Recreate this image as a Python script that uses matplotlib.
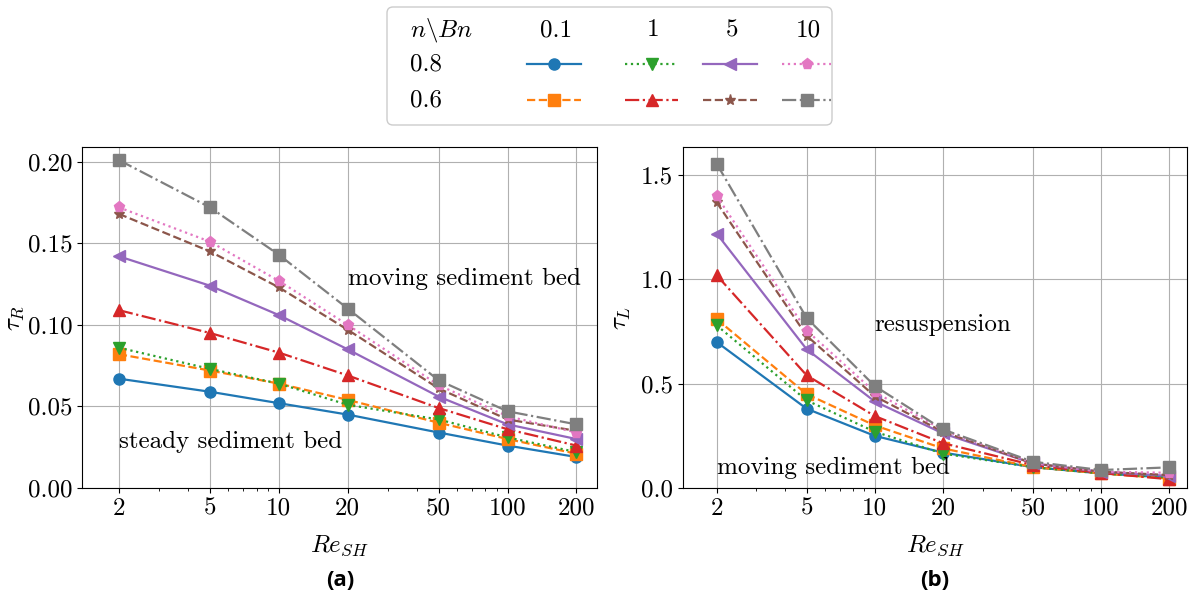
import matplotlib
matplotlib.use("Agg")
import matplotlib.pyplot as plt
from matplotlib.ticker import FixedLocator, FixedFormatter, NullFormatter
from matplotlib.patches import FancyBboxPatch

plt.rcParams['font.family'] = 'serif'
plt.rcParams['font.serif'] = ['cmr10']
plt.rcParams['mathtext.fontset'] = 'cm'
plt.rcParams['axes.formatter.use_mathtext'] = True
plt.rcParams['font.size'] = 18

re_sh = [2, 5, 10, 20, 50, 100, 200]
xtick_labels = ['2', '5', '10', '20', '50', '100', '200']

# series keys: (n, Bn)
series_keys = [(0.8, 0.1), (0.6, 0.1), (0.8, 1), (0.6, 1),
               (0.8, 5), (0.6, 5), (0.8, 10), (0.6, 10)]
colors = ['C0', 'C1', 'C2', 'C3', 'C4', 'C5', 'C6', 'C7']
styles = ['-', '--', ':', '-.', '-', '--', ':', '-.']
markers = ['o', 's', 'v', '^', '<', '*', 'p', 's']

# tau_R (a)
tau_r_08_01 = [0.067, 0.059, 0.052, 0.045, 0.034, 0.026, 0.019]
tau_r_06_01 = [0.082, 0.072, 0.064, 0.054, 0.040, 0.030, 0.021]
tau_r_08_1 = [0.086, 0.073, 0.064, 0.051, 0.042, 0.031, 0.022]
tau_r_06_1 = [0.109, 0.095, 0.083, 0.069, 0.049, 0.036, 0.026]
tau_r_08_5 = [0.142, 0.124, 0.106, 0.085, 0.056, 0.039, 0.030]
tau_r_06_5 = [0.168, 0.145, 0.123, 0.097, 0.061, 0.042, 0.035]
tau_r_08_10 = [0.172, 0.151, 0.127, 0.100, 0.063, 0.044, 0.034]
tau_r_06_10 = [0.201, 0.172, 0.143, 0.110, 0.066, 0.047, 0.039]

# tau_L (b)
tau_l_08_01 = [0.70, 0.38, 0.25, 0.17, 0.10, 0.07, 0.05]
tau_l_06_01 = [0.81, 0.45, 0.30, 0.19, 0.10, 0.07, 0.045]
tau_l_08_1 = [0.78, 0.42, 0.27, 0.165, 0.10, 0.07, 0.05]
tau_l_06_1 = [1.02, 0.54, 0.345, 0.215, 0.11, 0.072, 0.042]
tau_l_08_5 = [1.22, 0.665, 0.415, 0.262, 0.118, 0.078, 0.058]
tau_l_06_5 = [1.37, 0.73, 0.44, 0.27, 0.118, 0.078, 0.062]
tau_l_08_10 = [1.40, 0.755, 0.46, 0.278, 0.121, 0.078, 0.073]
tau_l_06_10 = [1.555, 0.815, 0.489, 0.281, 0.126, 0.086, 0.099]

tau_r = [tau_r_08_01, tau_r_06_01, tau_r_08_1, tau_r_06_1,
         tau_r_08_5, tau_r_06_5, tau_r_08_10, tau_r_06_10]
tau_l = [tau_l_08_01, tau_l_06_01, tau_l_08_1, tau_l_06_1,
         tau_l_08_5, tau_l_06_5, tau_l_08_10, tau_l_06_10]

W, H = 1196, 605
fig = plt.figure(figsize=(W / 100, H / 100), dpi=100)


def px_axes(x0, y0, x1, y1):
    return fig.add_axes([x0 / W, 1 - y1 / H, (x1 - x0) / W, (y1 - y0) / H])


ax1 = px_axes(82, 147, 597, 488)
ax2 = px_axes(683, 147, 1187, 488)


def setup(ax, data, ylabel, ylim, yticks, yfmt, xlim, ypad):
    for i, vals in enumerate(data):
        ax.plot(re_sh, vals, color=colors[i], linestyle=styles[i],
                marker=markers[i], markersize=8, linewidth=1.6)
    ax.set_xscale('log')
    ax.set_xlim(*xlim)
    ax.xaxis.set_major_locator(FixedLocator(re_sh))
    ax.xaxis.set_major_formatter(FixedFormatter(xtick_labels))
    ax.xaxis.set_minor_formatter(NullFormatter())
    ax.set_ylim(*ylim)
    ax.set_yticks(yticks)
    ax.set_yticklabels([yfmt % t for t in yticks])
    ax.grid(True, which='major', color='#b0b0b0', linewidth=0.8)
    ax.set_axisbelow(True)
    ax.set_xlabel(r'$Re_{SH}$', labelpad=10)
    ax.set_ylabel(ylabel, labelpad=ypad)
    ax.tick_params(labelsize=18)


setup(ax1, tau_r, r'$\tau_R$', (0, 0.209), [0, 0.05, 0.10, 0.15, 0.20], '%.2f',
      (1.38, 246), 1)
setup(ax2, tau_l, r'$\tau_L$', (0, 1.635), [0, 0.5, 1.0, 1.5], '%.1f',
      (1.42, 240), 6)

ax1.text(20, 0.128, 'moving sediment bed', va='center', ha='left', fontsize=18)
ax1.text(2, 0.028, 'steady sediment bed', va='center', ha='left', fontsize=18)
ax2.text(10, 0.78, 'resuspension', va='center', ha='left', fontsize=18)
ax2.text(2, 0.095, 'moving sediment bed', va='center', ha='left', fontsize=18)

fig.text(340 / W, 1 - 580 / H, '(a)', ha='center', va='center',
         fontsize=16, fontweight='bold', family='Open Sans')
fig.text(935 / W, 1 - 580 / H, '(b)', ha='center', va='center',
         fontsize=16, fontweight='bold', family='Open Sans')

# table-style legend at the top
lax = fig.add_axes([0, 0, 1, 1], zorder=5)
lax.set_xlim(0, W)
lax.set_ylim(H, 0)
lax.axis('off')
box = FancyBboxPatch((387, 7), 445, 118, boxstyle='round,pad=0,rounding_size=6',
                     facecolor='white', edgecolor='#cccccc', linewidth=1.0)
lax.add_patch(box)
row_labels = [r'$n\backslash Bn$', '0.8', '0.6']
row_y = [30, 64, 100]
for lab, y in zip(row_labels, row_y):
    lax.text(410, y, lab, ha='left', va='center', fontsize=18)
bn_labels = ['0.1', '1', '5', '10']
col_x = [(527, 581), (625, 678), (703, 757), (782, 831)]
for j, lab in enumerate(bn_labels):
    cx = 0.5 * (col_x[j][0] + col_x[j][1])
    lax.text(cx + 2, row_y[0], lab, ha='center', va='center', fontsize=18)
    for r in range(2):
        i = 2 * j + r
        x0, x1 = col_x[j]
        lax.plot([x0, 0.5 * (x0 + x1), x1], [row_y[r + 1]] * 3,
                 color=colors[i], linestyle=styles[i], marker=markers[i],
                 markevery=[1], markersize=8, linewidth=1.6)

fig.savefig('out.png', dpi=100)
